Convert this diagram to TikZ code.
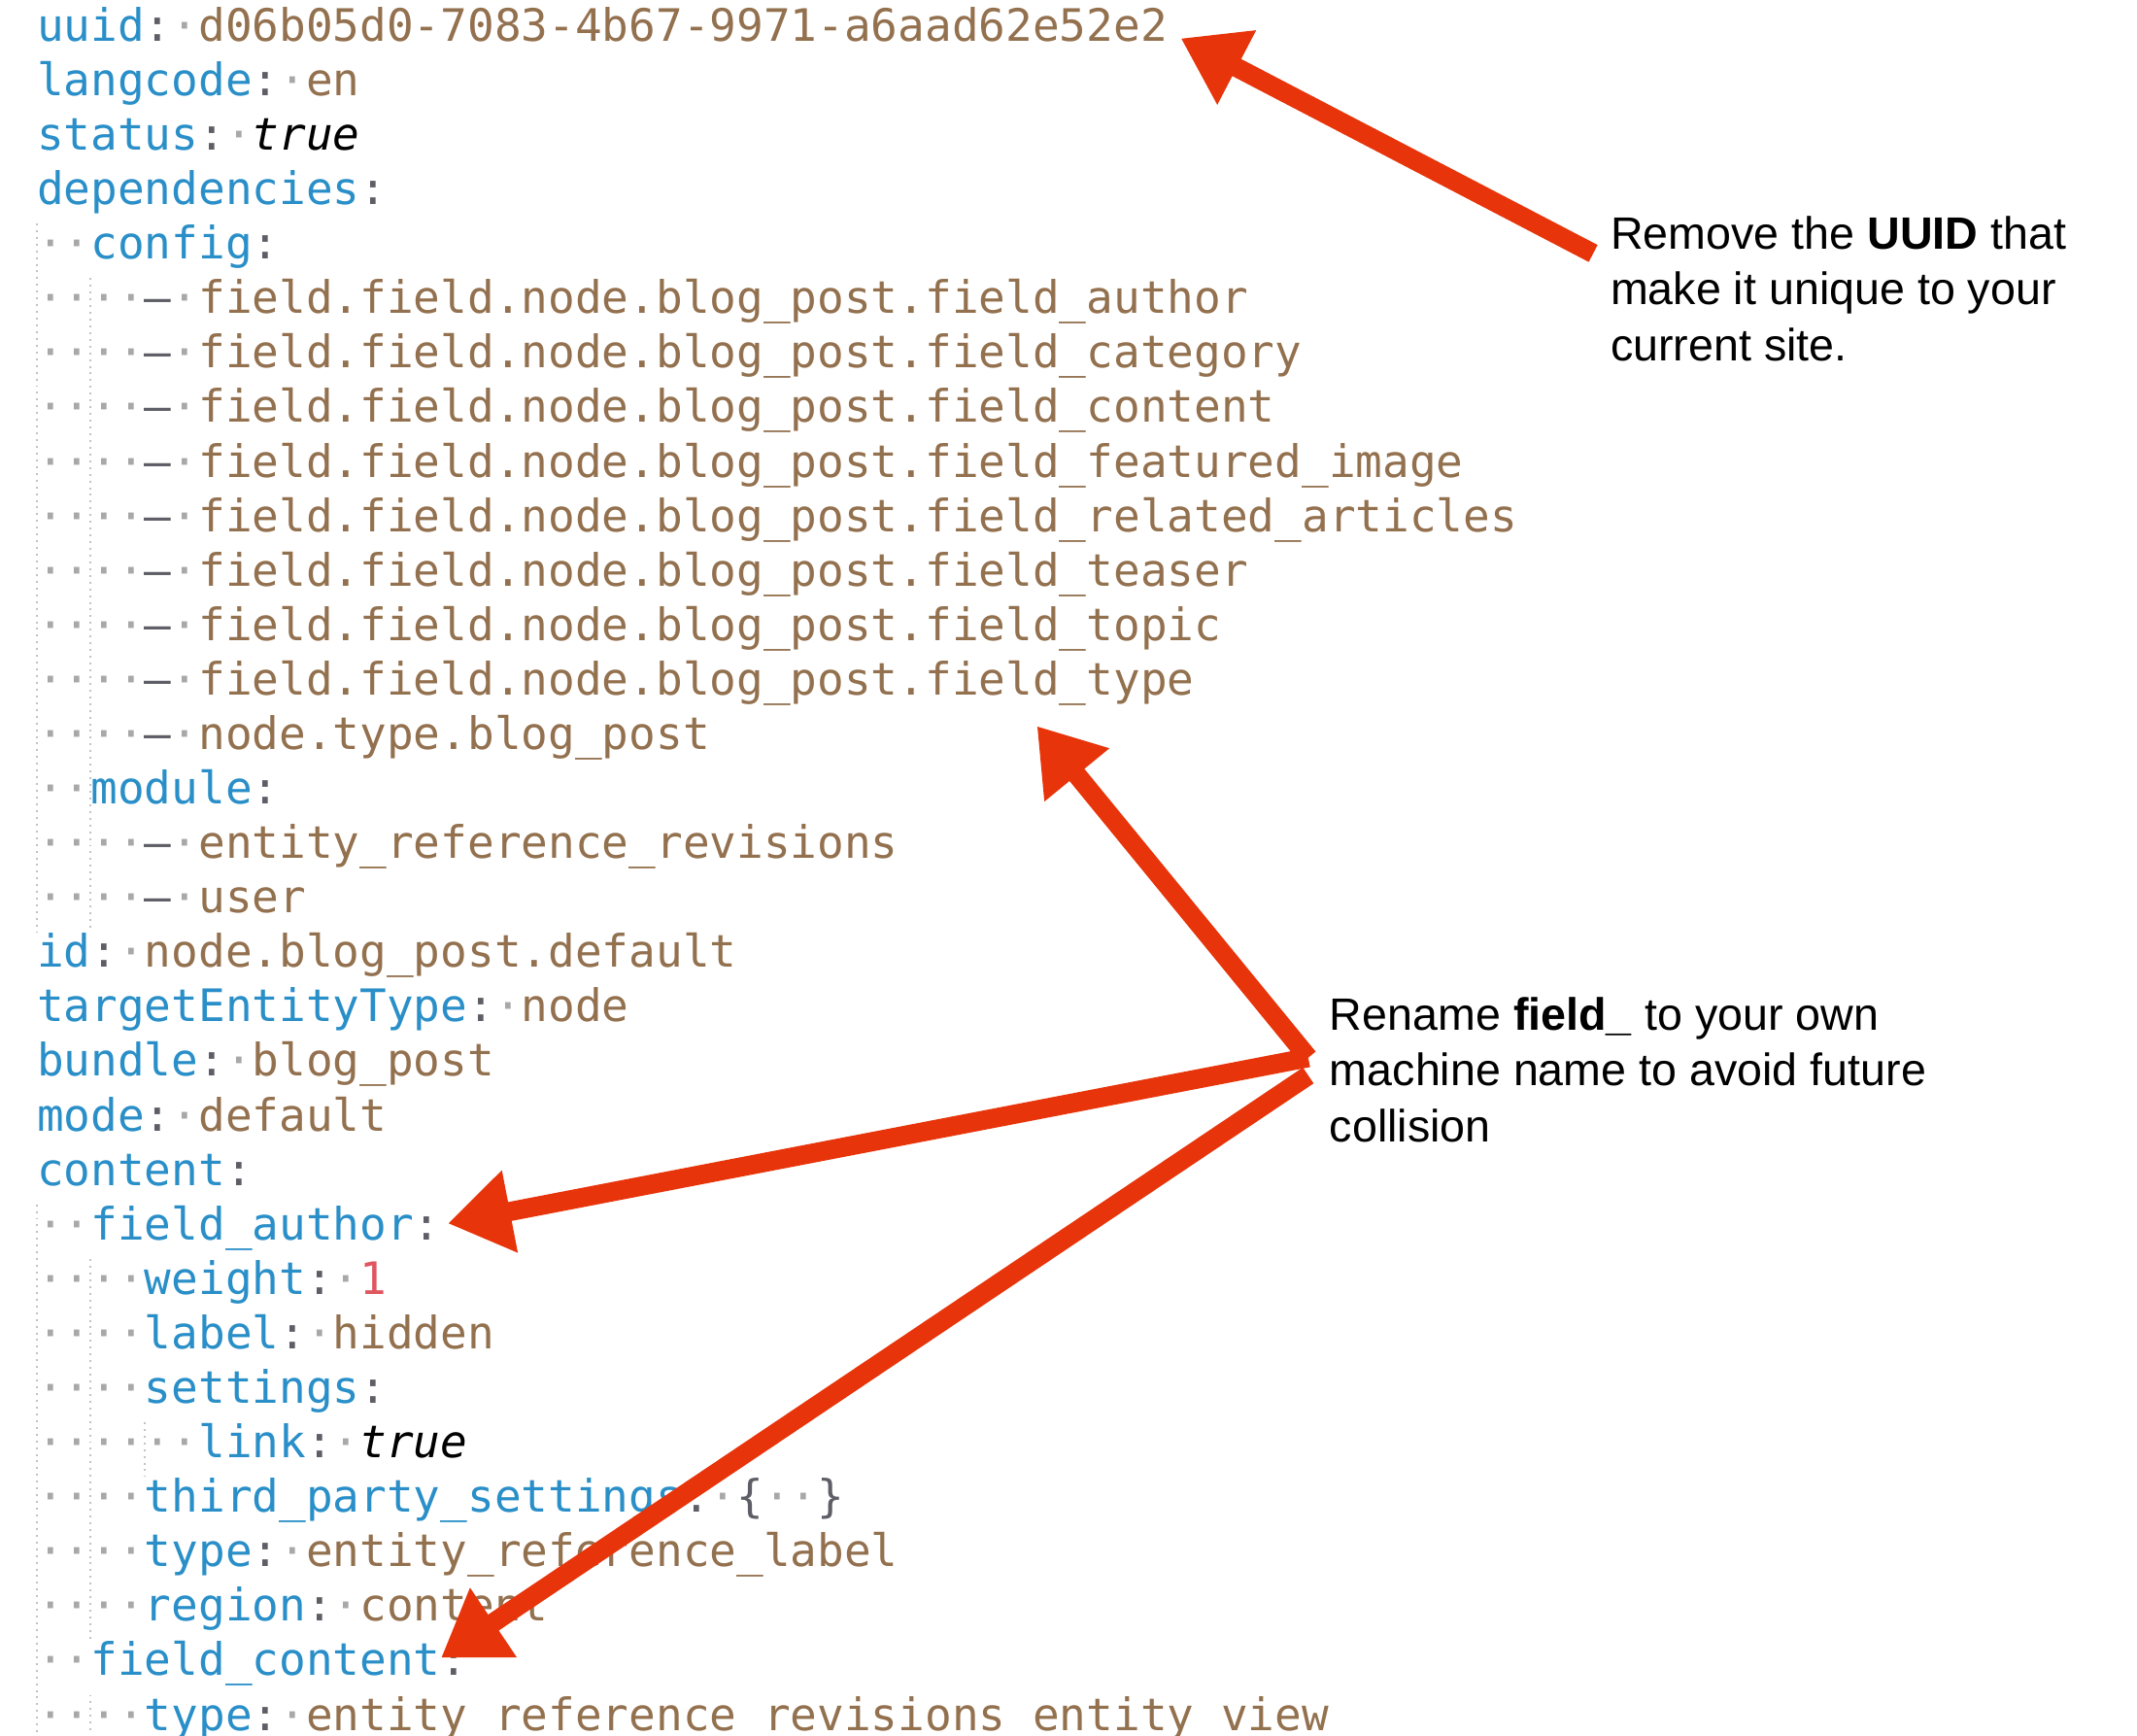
\documentclass[tikz,border=0pt]{standalone}
\usepackage{fontspec}
\setmainfont{Liberation Sans}
\setmonofont{DejaVu Sans Mono}
\usetikzlibrary{arrows.meta}
\definecolor{keyblue}{HTML}{2A8FC8}
\definecolor{valbrown}{HTML}{93714F}
\definecolor{dotgrey}{HTML}{A8A8A8}
\definecolor{colgrey}{HTML}{5E5E66}
\definecolor{numred}{HTML}{E05560}
\definecolor{arrowred}{HTML}{E8340A}
\newcommand{\ky}[1]{\textcolor{keyblue}{#1}}
\newcommand{\vl}[1]{\textcolor{valbrown}{#1}}
\newcommand{\cl}{\textcolor{colgrey}{:}}
\newcommand{\sd}{\textcolor{dotgrey}{·}}
\newcommand{\ld}{\sd\sd\sd\sd\textcolor{colgrey}{–}\sd}
\newcommand{\ff}{\vl{field.field.node.blog\_post.field\_}}
\tikzset{
  code/.style={anchor=base west,inner sep=0pt,outer sep=0pt,
    font=\ttfamily\fontsize{9.28}{11}\selectfont},
  note/.style={anchor=north west,inner sep=0pt,align=left,
    font=\fontsize{9.4}{11.6}\selectfont},
  guide/.style={draw=dotgrey!70,densely dotted,line width=0.4pt},
  callout/.style={draw=arrowred,line width=0.14cm,
    -{Triangle[length=0.46cm,width=0.58cm]}}
}
\begin{document}
\begin{tikzpicture}[x=0.01cm,y=0.01cm]
\useasboundingbox[fill=white] (0,0) rectangle (1560,-1266.5);
\begin{scope}
\clip (0,0) rectangle (1560,-1266.5);
% yaml lines
\node[code] (l1) at (27,-30) {\ky{uuid}\cl\sd\vl{d06b05d0-7083-4b67-9971-a6aad62e52e2}};
\node[code] (l2) at (27,-69.8) {\ky{langcode}\cl\sd\vl{en}};
\node[code] (l3) at (27,-109.5) {\ky{status}\cl\sd\textit{true}};
\node[code] (l4) at (27,-149.3) {\ky{dependencies}\cl};
\node[code] (l5) at (27,-189.1) {\sd\sd\ky{config}\cl};
\node[code] (l6) at (27,-228.9) {\ld\ff\vl{author}};
\node[code] (l7) at (27,-268.6) {\ld\ff\vl{category}};
\node[code] (l8) at (27,-308.4) {\ld\ff\vl{content}};
\node[code] (l9) at (27,-348.2) {\ld\ff\vl{featured\_image}};
\node[code] (l10) at (27,-387.9) {\ld\ff\vl{related\_articles}};
\node[code] (l11) at (27,-427.7) {\ld\ff\vl{teaser}};
\node[code] (l12) at (27,-467.5) {\ld\ff\vl{topic}};
\node[code] (l13) at (27,-507.2) {\ld\ff\vl{type}};
\node[code] (l14) at (27,-547) {\ld\vl{node.type.blog\_post}};
\node[code] (l15) at (27,-586.8) {\sd\sd\ky{module}\cl};
\node[code] (l16) at (27,-626.6) {\ld\vl{entity\_reference\_revisions}};
\node[code] (l17) at (27,-666.3) {\ld\vl{user}};
\node[code] (l18) at (27,-706.1) {\ky{id}\cl\sd\vl{node.blog\_post.default}};
\node[code] (l19) at (27,-745.9) {\ky{targetEntityType}\cl\sd\vl{node}};
\node[code] (l20) at (27,-785.6) {\ky{bundle}\cl\sd\vl{blog\_post}};
\node[code] (l21) at (27,-825.4) {\ky{mode}\cl\sd\vl{default}};
\node[code] (l22) at (27,-865.2) {\ky{content}\cl};
\node[code] (l23) at (27,-905) {\sd\sd\ky{field\_author}\cl};
\node[code] (l24) at (27,-944.7) {\sd\sd\sd\sd\ky{weight}\cl\sd\textcolor{numred}{1}};
\node[code] (l25) at (27,-984.5) {\sd\sd\sd\sd\ky{label}\cl\sd\vl{hidden}};
\node[code] (l26) at (27,-1024.3) {\sd\sd\sd\sd\ky{settings}\cl};
\node[code] (l27) at (27,-1064) {\sd\sd\sd\sd\sd\sd\ky{link}\cl\sd\textit{true}};
\node[code] (l28) at (27,-1103.8) {\sd\sd\sd\sd\ky{third\_party\_settings}\cl\sd\textcolor{colgrey}{\{\sd\sd\}}};
\node[code] (l29) at (27,-1143.6) {\sd\sd\sd\sd\ky{type}\cl\sd\vl{entity\_reference\_label}};
\node[code] (l30) at (27,-1183.3) {\sd\sd\sd\sd\ky{region}\cl\sd\vl{content}};
\node[code] (l31) at (27,-1223.1) {\sd\sd\ky{field\_content}\cl};
\node[code] (l32) at (27,-1262.9) {\sd\sd\sd\sd\ky{type}\cl\sd\vl{entity\_reference\_revisions\_entity\_view}};
% indent guides
\draw[guide] (27,-163) -- (27,-680);
\draw[guide] (66,-203) -- (66,-680);
\draw[guide] (27,-879) -- (27,-1266);
\draw[guide] (66,-919) -- (66,-1197);
\draw[guide] (106,-1038) -- (106,-1078);
\draw[guide] (66,-1237) -- (66,-1266);
\end{scope}
% notes
\node[note] (uuidnote) at (1175,-157) {Remove the \textbf{UUID} that\\make it unique to your\\current site.};
\node[note] (fieldnote) at (970,-727) {Rename \textbf{field\_} to your own\\machine name to avoid future\\collision};
% callouts
\coordinate (c1) at (1163,-185);
\coordinate (t1) at (862,-28);
\coordinate (c2) at (955,-772);
\coordinate (t2) at (757,-530);
\coordinate (t3) at (327,-893);
\coordinate (c4) at (955,-785);
\coordinate (t4) at (322,-1210);
\draw[callout] (c1) -- (t1);
\draw[callout] (c2) -- (t2);
\draw[callout] (c2) -- (t3);
\draw[callout] (c4) -- (t4);
\end{tikzpicture}
\end{document}
